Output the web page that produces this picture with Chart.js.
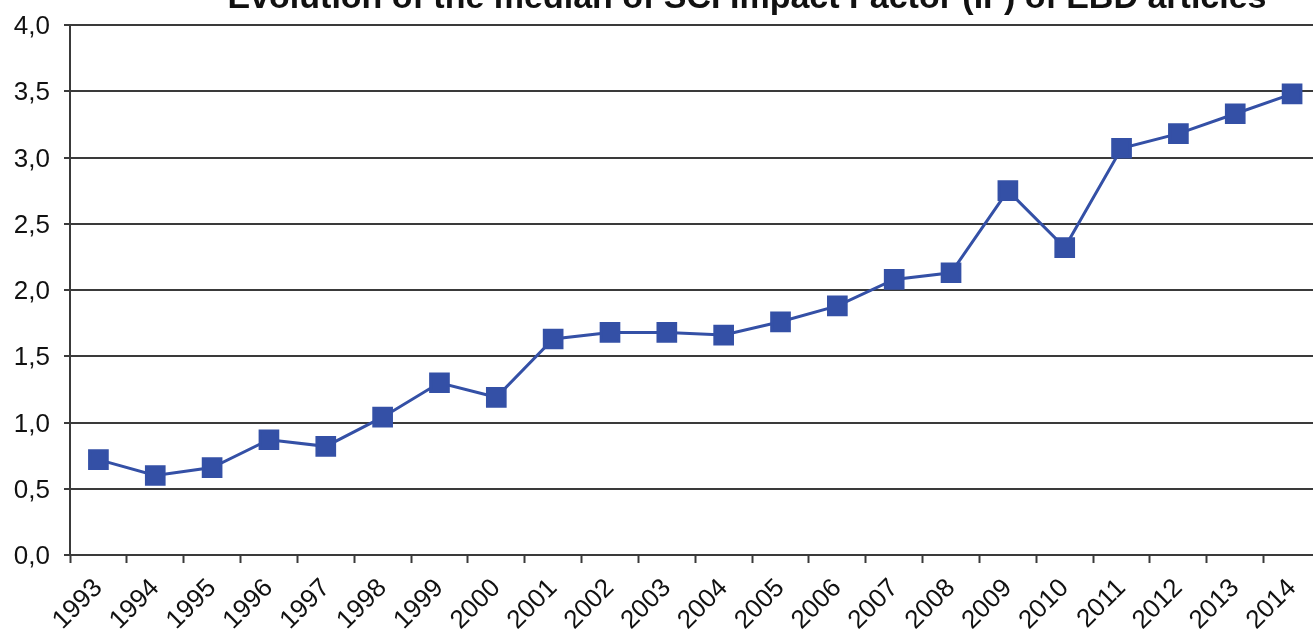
<!DOCTYPE html>
<html>
<head>
<meta charset="utf-8">
<script src="https://cdn.jsdelivr.net/npm/chart.js@4.4.1/dist/chart.umd.min.js"></script>
<style>
  html, body { margin: 0; padding: 0; background: #fff; overflow: hidden; }
  #wrap { position: relative; width: 1336px; height: 632px; }
</style>
</head>
<body>
<div id="wrap"><canvas id="ifChart"></canvas></div>
<script>
const years = ['1993', '1994', '1995', '1996', '1997', '1998', '1999', '2000', '2001', '2002', '2003',
  '2004', '2005', '2006', '2007', '2008', '2009', '2010', '2011', '2012', '2013', '2014'];
const medianIF = [0.72, 0.60, 0.66, 0.87, 0.82, 1.04, 1.30, 1.19, 1.63, 1.68, 1.68,
  1.66, 1.76, 1.88, 2.08, 2.13, 2.75, 2.32, 3.07, 3.18, 3.33, 3.48];
const titleText = 'Evolution of the median of SCI Impact Factor (IF) of EBD articles';

const blue = '#3450a6';
const gridColor = '#3a3a3a';
const fontFamily = '"Liberation Sans", Arial, sans-serif';

// title is cropped at the top of the picture, so draw it by hand
const titlePlugin = {
  id: 'croppedTitle',
  afterDraw(chart) {
    const ctx = chart.ctx;
    ctx.save();
    ctx.font = 'bold 34px ' + fontFamily;
    ctx.fillStyle = '#111';
    ctx.textAlign = 'center';
    ctx.textBaseline = 'alphabetic';
    ctx.fillText(titleText, 747, 8);
    ctx.restore();
  }
};

new Chart(document.getElementById('ifChart'), {
  type: 'line',
  data: {
    labels: years,
    datasets: [{
      label: 'Median IF',
      data: medianIF,
      borderColor: blue,
      backgroundColor: blue,
      borderWidth: 3,
      pointStyle: 'rect',
      pointRadius: 12.5,
      pointHoverRadius: 12.5,
      tension: 0
    }]
  },
  options: {
    responsive: true,
    maintainAspectRatio: false,
    animation: false,
    layout: { padding: { top: 25, right: 0, left: 0, bottom: 0 } },
    plugins: {
      legend: { display: false },
      tooltip: { enabled: false }
    },
    scales: {
      x: {
        offset: true,
        grid: {
          offset: true,
          drawOnChartArea: false,
          drawTicks: true,
          tickLength: 8,
          tickColor: gridColor,
          tickWidth: 2
        },
        border: { color: gridColor, width: 2 },
        ticks: {
          color: '#111',
          font: { family: fontFamily, size: 26 },
          minRotation: 45,
          maxRotation: 45,
          autoSkip: false,
          padding: 10
        },
        afterFit(axis) { axis.height = 77; }
      },
      y: {
        min: 0,
        max: 4,
        grid: {
          color: gridColor,
          lineWidth: 2,
          tickLength: 6,
          tickColor: gridColor
        },
        border: { color: gridColor, width: 2 },
        ticks: {
          stepSize: 0.5,
          color: '#111',
          padding: 14,
          labelOffset: 2,
          font: { family: fontFamily, size: 26 },
          callback: (v) => v.toFixed(1).replace('.', ',')
        },
        afterFit(axis) {
          axis.width = 70;
          // let the top label stick out above the plot like in the original
          axis.paddingTop = 0;
          axis.paddingBottom = 0;
        }
      }
    }
  },
  plugins: [titlePlugin]
});
</script>
</body>
</html>
